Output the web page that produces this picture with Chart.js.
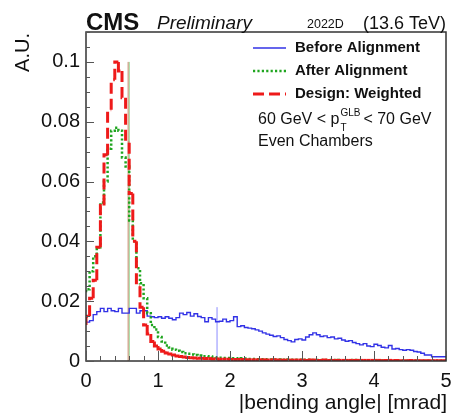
<!DOCTYPE html>
<html>
<head>
<meta charset="utf-8">
<script src="https://cdn.jsdelivr.net/npm/chart.js@4.4.1/dist/chart.umd.min.js"></script>
<style>
  html, body { margin: 0; padding: 0; background: #fff; }
  canvas { display: block; }
</style>
</head>
<body>
<canvas id="chartBend" width="452" height="415"></canvas>
<script>
// bending angle histograms, 100 bins of 0.05 mrad from 0 to 5
const BIN_W = 0.05;
const seriesNames = ['Before Alignment', 'After Alignment', 'Design: Weighted'];

const beforeAlign = [
  0.0154, 0.0130, 0.0135, 0.0155, 0.0165, 0.0176, 0.0165, 0.0176, 0.0168, 0.0165,
  0.0176, 0.0160, 0.0160, 0.0176, 0.0176, 0.0160, 0.0168, 0.0168, 0.0150, 0.0148,
  0.0145, 0.0148, 0.0143, 0.0148, 0.0143, 0.0138, 0.0145, 0.0160, 0.0155, 0.0162,
  0.0150, 0.0158, 0.0149, 0.0145, 0.0131, 0.0145, 0.0140, 0.0131, 0.0133, 0.0140,
  0.0131, 0.0135, 0.0148, 0.0115, 0.0118, 0.0112, 0.0110, 0.0108, 0.0104, 0.0100,
  0.0094, 0.0090, 0.0086, 0.0082, 0.0084, 0.0078, 0.0072, 0.0068, 0.0064, 0.0072,
  0.0074, 0.0070, 0.0080, 0.0088, 0.0094, 0.0088, 0.0082, 0.0084, 0.0078, 0.0080,
  0.0074, 0.0076, 0.0070, 0.0066, 0.0068, 0.0062, 0.0058, 0.0054, 0.0058, 0.0050,
  0.0048, 0.0056, 0.0052, 0.0046, 0.0044, 0.0052, 0.0040, 0.0042, 0.0038, 0.0036,
  0.0038, 0.0036, 0.0032, 0.0030, 0.0026, 0.0020, 0.0020, 0.0014, 0.0014, 0.0014
];

const afterAlign = [
  0.023, 0.024, 0.030, 0.035, 0.038, 0.053, 0.060, 0.071, 0.077, 0.078,
  0.077, 0.068, 0.065, 0.047, 0.040, 0.031, 0.026, 0.021, 0.016, 0.012,
  0.0105, 0.008, 0.0065, 0.0052, 0.0045, 0.0038, 0.0034, 0.0030, 0.0026, 0.0024,
  0.0022, 0.0020, 0.0018, 0.0016, 0.0016, 0.0015, 0.0013, 0.0012, 0.0011, 0.0010,
  0.0010, 0.0009, 0.0009, 0.0008, 0.0009, 0.0008, 0.0007, 0.0007, 0.0006, 0.0006,
  0.0006, 0.0005, 0.0005, 0.0005, 0.0005, 0.0004, 0.0004, 0.0005, 0.0004, 0.0004,
  0.0004, 0.0003, 0.0004, 0.0003, 0.0003, 0.0003, 0.0003, 0.0003, 0.0003, 0.0003,
  0.0002, 0.0003, 0.0002, 0.0002, 0.0002, 0.0003, 0.0002, 0.0002, 0.0002, 0.0002,
  0.0002, 0.0002, 0.0002, 0.0002, 0.0001, 0.0002, 0.0002, 0.0001, 0.0002, 0.0001,
  0.0001, 0.0001, 0.0002, 0.0001, 0.0001, 0.0001, 0.0001, 0.0001, 0.0001, 0.0001
];

const designWeighted = [
  0.012, 0.015, 0.021, 0.027, 0.038, 0.052, 0.069, 0.084, 0.094, 0.100,
  0.097, 0.088, 0.073, 0.056, 0.040, 0.025, 0.018, 0.012, 0.009, 0.0065,
  0.0050, 0.0040, 0.0033, 0.0027, 0.0023, 0.0020, 0.0017, 0.0015, 0.0013, 0.0012,
  0.0011, 0.0010, 0.0009, 0.0009, 0.0008, 0.0008, 0.0007, 0.0007, 0.0006, 0.0006,
  0.0006, 0.0005, 0.0005, 0.0005, 0.0005, 0.0004, 0.0004, 0.0004, 0.0004, 0.0004,
  0.0004, 0.0003, 0.0003, 0.0004, 0.0003, 0.0003, 0.0003, 0.0003, 0.0003, 0.0003,
  0.0003, 0.0003, 0.0002, 0.0003, 0.0003, 0.0002, 0.0002, 0.0003, 0.0002, 0.0002,
  0.0002, 0.0002, 0.0002, 0.0002, 0.0002, 0.0002, 0.0002, 0.0002, 0.0002, 0.0002,
  0.0002, 0.0002, 0.0002, 0.0001, 0.0002, 0.0002, 0.0001, 0.0002, 0.0001, 0.0001,
  0.0001, 0.0002, 0.0001, 0.0001, 0.0001, 0.0001, 0.0001, 0.0001, 0.0001, 0.0001
];

// mean markers: [before, after, design]
const meanX = [1.82, 0.60, 0.585];
const meanTop = [0.018, 0.100, 0.100];

const xTicks = [0, 1, 2, 3, 4, 5];
const yTicks = [0, 0.02, 0.04, 0.06, 0.08, 0.1];

const BLUE = '#3232e6';
const GREEN = '#1fa51f';
const RED = '#ee1a1a';
const INK = '#111';
const FONT = '"Liberation Sans", Arial, Helvetica, sans-serif';

function stepData(vals) {
  const pts = vals.map((v, i) => ({ x: i * BIN_W, y: v }));
  pts.push({ x: vals.length * BIN_W, y: vals[vals.length - 1] });
  return pts;
}

function meanLine(i) {
  return [{ x: meanX[i], y: 0 }, { x: meanX[i], y: meanTop[i] }];
}

const decor = {
  id: 'decor',
  afterDraw(chart) {
    const { ctx, chartArea: a, scales: { x, y } } = chart;
    ctx.save();

    // frame
    ctx.strokeStyle = '#333';
    ctx.lineWidth = 1.5;
    ctx.strokeRect(a.left, a.top, a.right - a.left, a.bottom - a.top);

    // inward ticks, ROOT style
    ctx.strokeStyle = '#555';
    ctx.lineWidth = 1;
    ctx.beginPath();
    for (let k = 0; k <= 25; k++) {
      const px = Math.round(x.getPixelForValue(k * 0.2)) + 0.5;
      ctx.moveTo(px, a.bottom);
      ctx.lineTo(px, a.bottom - (k % 5 === 0 ? 10 : 5));
    }
    for (let k = 0; k <= 22; k++) {
      const py = Math.round(y.getPixelForValue(k * 0.005)) + 0.5;
      ctx.moveTo(a.left, py);
      ctx.lineTo(a.left + (k % 4 === 0 ? 8 : 4), py);
    }
    ctx.stroke();

    // header
    ctx.fillStyle = INK;
    ctx.textBaseline = 'alphabetic';
    ctx.textAlign = 'left';
    ctx.font = 'bold 24px ' + FONT;
    ctx.fillText('CMS', 86, 30);
    ctx.font = 'italic 19px ' + FONT;
    ctx.fillText('Preliminary', 157, 29);
    ctx.font = '12.5px ' + FONT;
    ctx.fillText('2022D', 307, 28);
    ctx.textAlign = 'right';
    ctx.font = '18px ' + FONT;
    ctx.fillText('(13.6 TeV)', 446, 29);

    // axis titles
    ctx.font = '21px ' + FONT;
    ctx.fillText('|bending angle| [mrad]', 447, 409);
    ctx.save();
    ctx.translate(29, 33);
    ctx.rotate(-Math.PI / 2);
    ctx.font = '20px ' + FONT;
    ctx.textAlign = 'right';
    ctx.fillText('A.U.', 0, 0);
    ctx.restore();

    // legend
    const rows = [48, 71, 94];
    const styles = [
      { c: BLUE, w: 1.5, d: [] },
      { c: GREEN, w: 2.5, d: [2.2, 2.2] },
      { c: RED, w: 3, d: [11, 5] }
    ];
    rows.forEach((ry, i) => {
      ctx.strokeStyle = styles[i].c;
      ctx.lineWidth = styles[i].w;
      ctx.setLineDash(styles[i].d);
      ctx.beginPath();
      ctx.moveTo(253, ry);
      ctx.lineTo(286, ry);
      ctx.stroke();
    });
    ctx.setLineDash([]);
    ctx.textAlign = 'left';
    ctx.textBaseline = 'middle';
    ctx.font = 'bold 15px ' + FONT;
    seriesNames.forEach((name, i) => ctx.fillText(name, 295, rows[i]));

    // cut text
    ctx.font = '16px ' + FONT;
    let cx = 258;
    const cy = 120;
    ctx.fillText('60 GeV < p', cx, cy);
    cx += ctx.measureText('60 GeV < p').width + 1;
    ctx.font = '10px ' + FONT;
    ctx.fillText('GLB', cx, cy - 7);
    ctx.fillText('T', cx, cy + 8);
    cx += ctx.measureText('GLB').width + 3;
    ctx.font = '16px ' + FONT;
    ctx.fillText('< 70 GeV', cx, cy);
    ctx.fillText('Even Chambers', 258, 142);

    ctx.restore();
  }
};

new Chart(document.getElementById('chartBend'), {
  type: 'line',
  data: {
    datasets: [
      {
        label: seriesNames[2],
        data: stepData(designWeighted),
        stepped: 'after',
        borderColor: RED,
        borderWidth: 3,
        borderDash: [11, 5],
        pointRadius: 0,
        // restart the dash on every bin, like ROOT does
        segment: { borderDashOffset: (c) => (c.p0DataIndex % 2 ? 0.01 : 0) }
      },
      {
        label: seriesNames[1],
        data: stepData(afterAlign),
        stepped: 'after',
        borderColor: GREEN,
        borderWidth: 2.5,
        borderDash: [2.2, 2.2],
        pointRadius: 0
      },
      {
        label: seriesNames[0],
        data: stepData(beforeAlign),
        stepped: 'after',
        borderColor: BLUE,
        borderWidth: 1.4,
        pointRadius: 0
      },
      { data: meanLine(2), borderColor: 'rgba(200,130,100,0.9)', borderWidth: 1, pointRadius: 0 },
      { data: meanLine(1), borderColor: 'rgba(60,180,60,0.6)', borderWidth: 1, pointRadius: 0 },
      { data: meanLine(0), borderColor: 'rgba(110,110,255,0.8)', borderWidth: 1, pointRadius: 0 }
    ]
  },
  options: {
    responsive: false,
    devicePixelRatio: 1,
    animation: false,
    layout: { padding: { top: 32, right: 6, left: 0, bottom: 0 } },
    plugins: { legend: { display: false }, tooltip: { enabled: false } },
    scales: {
      x: {
        type: 'linear',
        min: 0,
        max: 5,
        afterFit: (s) => { s.height = 54; s.paddingLeft = 0; s.paddingRight = 0; },
        afterBuildTicks: (s) => { s.ticks = xTicks.map((v) => ({ value: v })); },
        ticks: { color: INK, font: { family: FONT, size: 20 }, padding: 8, maxRotation: 0, autoSkip: false, callback: (v) => String(v) },
        grid: { display: false, drawTicks: false },
        border: { display: false }
      },
      y: {
        type: 'linear',
        min: 0,
        max: 0.11,
        afterFit: (s) => { s.width = 86; s.paddingTop = 0; s.paddingBottom = 0; },
        afterBuildTicks: (s) => { s.ticks = yTicks.map((v) => ({ value: v })); },
        ticks: { color: INK, font: { family: FONT, size: 20 }, padding: 6, autoSkip: false, callback: (v) => String(v) },
        grid: { display: false, drawTicks: false },
        border: { display: false }
      }
    }
  },
  plugins: [decor]
});
</script>
</body>
</html>
